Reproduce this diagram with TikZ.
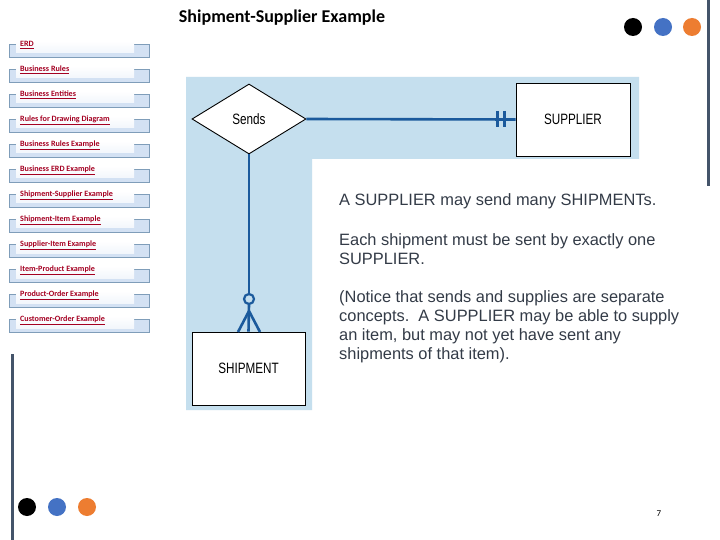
\documentclass[tikz,border=0pt]{standalone}
\usepackage{fontspec}
\setmainfont{Liberation Sans}
\newfontfamily\calib{Carlito}
\newfontfamily\cond[FakeStretch=0.78]{Liberation Sans}
\usetikzlibrary{shapes.geometric}
\definecolor{navfill}{HTML}{D3E1F3}
\definecolor{navline}{HTML}{7F9DB9}
\definecolor{navred}{HTML}{A50021}
\definecolor{erbg}{HTML}{C5DFEE}
\definecolor{erline}{HTML}{1B5A9C}
\definecolor{barcol}{HTML}{44546A}
\definecolor{dotblue}{HTML}{4472C4}
\definecolor{dotorange}{HTML}{ED7D31}
\definecolor{bodytxt}{HTML}{333B47}
\tikzset{
  navbox/.style={fill=navfill,draw=navline,line width=0.8pt},
  navtxt/.style={anchor=west,inner sep=0pt,font=\calib\bfseries\fontsize{8.1}{9}\selectfont,text=navred},
  entity/.style={draw=black,line width=0.9pt,fill=white,font=\cond\fontsize{15}{18}\selectfont},
  rel/.style={diamond,draw=black,line width=0.9pt,fill=white,aspect=1.5,font=\cond\fontsize{15}{18}\selectfont,inner sep=0pt},
  erl/.style={draw=erline,line width=2.6pt},
  body/.style={anchor=base west,inner sep=0pt,font=\fontsize{16.4}{19.3}\selectfont,align=left,text=bodytxt},
  dot/.style={circle,minimum size=18pt,inner sep=0pt}
}
\begin{document}
\begin{tikzpicture}[x=1pt,y=-1pt]
\useasboundingbox (0,0) rectangle (720,540);
\fill[white] (0,0) rectangle (720,540);
% title
\node[font=\calib\bfseries\fontsize{18}{21}\selectfont] (title) at (282,18) {Shipment-Supplier Example};
% dots
\node[dot,fill=black] (d1) at (633,27) {};
\node[dot,fill=dotblue] (d2) at (663,27) {};
\node[dot,fill=dotorange] (d3) at (692,27) {};
\node[dot,fill=black] (e1) at (27,507) {};
\node[dot,fill=dotblue] (e2) at (57,507) {};
\node[dot,fill=dotorange] (e3) at (87,507) {};
% bars
\fill[barcol] (706.5,0) rectangle (709.5,186);
\fill[barcol] (10.5,354) rectangle (13.5,540);
% page number
\node[font=\calib\fontsize{9}{10}\selectfont] (pg) at (659,514) {7};
% nav buttons
\foreach \i/\t in {0/ERD,1/Business Rules,2/Business Entities,3/Rules for Drawing Diagram,4/Business Rules Example,5/Business ERD Example,6/Shipment-Supplier Example,7/Shipment-Item Example,8/Supplier-Item Example,9/Item-Product Example,10/Product-Order Example,11/Customer-Order Example}{
  \pgfmathsetmacro\yy{45+25*\i}
  \draw[navbox] (9,\yy-1) rectangle (149,\yy+12);
  \shade[top color=white,bottom color=white!70!navfill] (16,\yy-4) rectangle (134,\yy+8);
  \node[navtxt] (nav\i) at (20,\yy) {\underline{\t}};
}
% ER background
\fill[erbg] (186,77) -- (639,77) -- (639,159) -- (312,159) -- (312,410) -- (186,410) -- cycle;
% ER nodes
\node[rel,minimum width=114pt,minimum height=70pt] (sends) at (249,119) {Sends};
\node[entity,minimum width=114pt,minimum height=73pt] (supplier) at (573,119.5) {SUPPLIER};
\node[entity,minimum width=113pt,minimum height=73pt] (shipment) at (248.5,368.5) {SHIPMENT};
% connectors
\draw[erl] (sends.east) -- (supplier.west);
\draw[erl] (497.5,111) -- (497.5,127);
\draw[erl] (504.5,111) -- (504.5,127);
\coordinate (circ) at (249,299);
\coordinate (apex) at (249,311);
\draw[erl] (sends.south) -- (249,293.5);
\draw[draw=erline,line width=2.2pt] (circ) circle (5);
\draw[erl] (249,304.5) -- (shipment.north);
\draw[erl,line join=round] (238,332) -- (apex) -- (260,332);
% texts (base anchor = baseline of last line)
\node[body] (t1) at (339,206) {A SUPPLIER may send many SHIPMENTs.};
\node[body] (t2) at (339,264.3) {Each shipment must be sent by exactly one\\SUPPLIER.};
\node[body] (t3) at (339,359.9) {(Notice that sends and supplies are separate\\concepts.\ \ A SUPPLIER may be able to supply\\an item, but may not yet have sent any\\shipments of that item).};
\end{tikzpicture}
\end{document}
